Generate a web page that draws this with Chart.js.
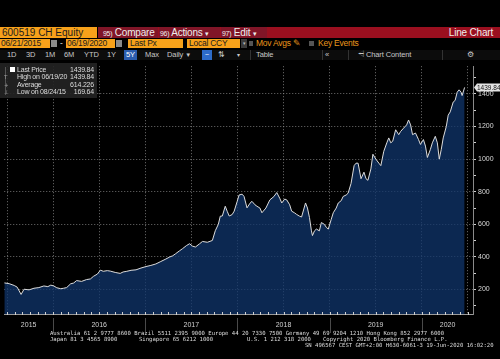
<!DOCTYPE html>
<html>
<head>
<meta charset="utf-8">
<script src="https://cdn.jsdelivr.net/npm/chart.js@4.4.1/dist/chart.umd.min.js"></script>
<style>
body{margin:0;background:#000;width:500px;height:359px;overflow:hidden;position:relative;
  font-family:"Liberation Sans",Arial,sans-serif;}
.a{position:absolute;white-space:nowrap;}
.or{background:#f7a11a;color:#1c1c1c;}
.rd{background:#9a0f1f;}
.sg{background:#801527;color:#eee;font-size:10px;line-height:11px;height:11px;top:27px;letter-spacing:-0.2px;}
.sg small{font-size:7px;letter-spacing:-0.3px;}
.r2{top:39px;height:9px;font-size:8.5px;line-height:9px;letter-spacing:-0.25px;}
.r3{top:50px;height:10px;font-size:7.5px;line-height:10px;color:#c8c8c8;letter-spacing:-0.1px;}
.cal{background:#8a8a8a;width:6px;height:7px;top:40px;}
.sep{background:#333;width:1px;height:10px;top:50px;}
#chartBox{position:absolute;left:0;top:60px;width:500px;height:275px;}
#lg{position:absolute;left:0;top:63px;width:97px;height:35px;background:rgba(36,36,36,0.9);
  color:#ddd;font-size:7px;letter-spacing:-0.2px;}
#lg .li{position:absolute;left:0;width:96px;height:8px;line-height:8px;}
#lg .li span{position:absolute;left:17px;}
#lg .li b{position:absolute;right:2px;font-weight:normal;}
#lg .sy{position:absolute;left:4px;color:#999;font-style:normal;font-family:"DejaVu Sans",sans-serif;font-size:5.5px;}
.ft{position:absolute;white-space:pre;font-family:"DejaVu Sans Mono",monospace;font-size:5.6px;
  line-height:6px;color:#ddd;}
</style>
</head>
<body>
<!-- header row 1 -->
<div class="a or" style="left:0;top:27px;width:95px;height:11px;font-size:10px;line-height:11px;padding-left:2px;">600519 CH Equity</div>
<div class="a rd" style="left:98px;top:27px;width:402px;height:11px;"></div>
<div class="a sg" style="left:98px;width:60px;padding-left:5px;box-sizing:border-box;"><small>95)</small> Compare</div>
<div class="a sg" style="left:159px;width:61px;padding-left:1px;box-sizing:border-box;"><small>96)</small> Actions <small>▾</small></div>
<div class="a sg" style="left:221px;width:46px;padding-left:1px;box-sizing:border-box;"><small>97)</small> Edit <small>▾</small></div>
<div class="a" style="right:7px;top:27px;font-size:10px;line-height:11px;color:#eee;letter-spacing:-0.2px;">Line Chart</div>

<!-- header row 2 -->
<div class="a or r2" style="left:0;width:49px;padding-left:1px;">06/21/2015</div>
<div class="a cal" style="left:51px;"></div>
<div class="a r2" style="left:60px;color:#ddd;">-</div>
<div class="a or r2" style="left:66px;width:48px;padding-left:1px;">06/19/2020</div>
<div class="a cal" style="left:116px;"></div>
<div class="a or r2" style="left:128px;width:53px;padding-left:2px;">Last Px</div>
<div class="a or r2" style="left:187px;width:51px;padding-left:2px;">Local CCY</div>
<div class="a" style="left:241px;top:39px;width:6px;height:9px;background:#3a3a3a;color:#bbb;font-size:5px;line-height:9px;text-align:center;">▾</div>
<div class="a" style="left:249px;top:41px;width:4px;height:5px;background:#555;"></div>
<div class="a r2" style="left:256px;color:#e8961c;">Mov Avgs ✎</div>
<div class="a" style="left:309px;top:41px;width:5px;height:5px;background:#555;"></div>
<div class="a r2" style="left:318px;color:#e8961c;">Key Events</div>

<!-- header row 3 -->
<div class="a" style="left:0;top:50px;width:500px;height:10px;background:#0c0c0c;"></div>
<div class="a r3" style="left:7px;">1D</div>
<div class="a r3" style="left:26px;">3D</div>
<div class="a r3" style="left:45px;">1M</div>
<div class="a r3" style="left:64px;">6M</div>
<div class="a r3" style="left:84px;">YTD</div>
<div class="a r3" style="left:107px;">1Y</div>
<div class="a r3" style="left:124px;width:13px;background:#2b5cae;color:#fff;text-align:center;">5Y</div>
<div class="a r3" style="left:145px;">Max</div>
<div class="a r3" style="left:167px;">Daily <span style="font-size:6px;">▼</span></div>
<div class="a r3" style="left:202px;width:10px;background:#2d6bc9;color:#fff;text-align:center;font-size:7px;">~</div>
<div class="a r3" style="left:218px;">⇅</div>
<div class="a r3" style="left:237px;font-size:6px;">▾</div>
<div class="a sep" style="left:250px;"></div>
<div class="a r3" style="left:256px;">Table</div>
<div class="a sep" style="left:322px;"></div>
<div class="a r3" style="left:325px;">«</div>
<div class="a sep" style="left:348px;"></div>
<div class="a r3" style="left:358px;">⩤ Chart Content</div>
<div class="a sep" style="left:442px;"></div>
<div class="a r3" style="left:467px;">⚙</div>

<div id="chartBox"><canvas id="chart"></canvas></div>

<!-- legend -->
<div id="lg">
  <div style="position:absolute;left:5px;top:4px;width:1px;height:28px;background:#555;"></div>
  <div class="li" style="top:2.5px;"><div style="position:absolute;left:10px;top:1.5px;width:5px;height:5px;background:#fff;"></div><span>Last Price</span><b>1439.84</b></div>
  <div class="li" style="top:10px;"><i class="sy">T</i><span>High on 06/19/20</span><b>1439.84</b></div>
  <div class="li" style="top:17.5px;"><i class="sy">+</i><span>Average</span><b>614.226</b></div>
  <div class="li" style="top:25px;"><i class="sy">⊥</i><span>Low on 08/24/15</span><b>169.64</b></div>
</div>

<!-- footer -->
<div class="ft" style="left:50px;top:330px;">Australia 61 2 9777 8600 Brazil 5511 2395 9000 Europe 44 20 7330 7500 Germany 49 69 9204 1210 Hong Kong 852 2977 6000</div>
<div class="ft" style="left:50px;top:336px;">Japan 81 3 4565 8900</div>
<div class="ft" style="left:139px;top:336px;">Singapore 65 6212 1000</div>
<div class="ft" style="left:247px;top:336px;">U.S. 1 212 318 2000</div>
<div class="ft" style="left:323px;top:336px;">Copyright 2020 Bloomberg Finance L.P.</div>
<div class="ft" style="left:305px;top:342px;">SN 496567 CEST GMT+2:00 H630-6061-3 19-Jun-2020 16:02:20</div>

<script>
// dates as decimal years
var dates = [
  2015.470,2015.524,2015.578,2015.610,2015.653,2015.685,2015.739,2015.793,2015.846,2015.900,
  2015.943,2015.975,2016.008,2016.040,2016.083,2016.115,2016.147,2016.190,2016.223,2016.255,
  2016.309,2016.362,2016.405,2016.438,2016.481,2016.513,2016.545,2016.588,2016.621,2016.674,
  2016.728,2016.760,2016.793,2016.846,2016.900,2016.954,2017.008,2017.061,2017.115,2017.169,
  2017.223,2017.266,2017.298,2017.330,2017.373,2017.405,2017.448,2017.481,2017.513,2017.545,
  2017.588,2017.621,2017.674,2017.728,2017.760,2017.793,2017.814,2017.836,2017.868,2017.889,
  2017.911,2017.943,2017.965,2017.997,2018.018,2018.051,2018.072,2018.104,2018.137,2018.158,
  2018.190,2018.212,2018.244,2018.266,2018.309,2018.352,2018.395,2018.427,2018.459,2018.481,
  2018.513,2018.535,2018.567,2018.588,2018.621,2018.642,2018.674,2018.696,2018.739,2018.760,
  2018.782,2018.803,2018.814,2018.836,2018.857,2018.889,2018.911,2018.943,2018.965,2018.986,
  2019.018,2019.040,2019.072,2019.094,2019.126,2019.147,2019.180,2019.201,2019.233,2019.266,
  2019.287,2019.309,2019.341,2019.373,2019.395,2019.416,2019.448,2019.470,2019.502,2019.535,
  2019.556,2019.588,2019.621,2019.642,2019.664,2019.685,2019.717,2019.750,2019.771,2019.803,
  2019.836,2019.857,2019.879,2019.900,2019.932,2019.965,2019.986,2020.018,2020.040,2020.061,
  2020.094,2020.115,2020.147,2020.169,2020.190,2020.212,2020.233,2020.266,2020.287,2020.309,
  2020.341,2020.362,2020.384,2020.405,2020.427,2020.438,2020.465
];
var prices = [
  241,236,225,215,170,202,198,208,212,222,
  218,227,222,211,205,208,212,235,240,255,
  250,261,265,281,295,319,312,316,313,305,
  299,308,311,318,321,332,341,348,357,372,
  387,400,407,420,438,451,470,481,466,461,
  480,495,490,501,561,600,650,651,711,680,
  651,660,681,740,780,785,771,701,730,741,
  720,711,700,671,700,750,770,795,760,731,
  755,750,720,681,670,661,650,645,731,700,
  641,560,531,560,571,560,611,600,581,571,
  631,671,700,731,745,771,780,791,851,960,
  975,975,880,920,880,870,940,1030,1000,975,
  960,1048,1100,1130,1100,1110,1180,1150,1170,1190,
  1210,1240,1210,1150,1160,1120,1090,1120,1080,1010,
  1060,1100,1140,1100,1000,1060,1130,1200,1270,1290,
  1350,1360,1410,1425,1410,1390,1439.84
];
var yTickValues = [200,400,600,800,1000,1200,1400];
var yearLabels = ['2015','2016','2017','2018','2019','2020'];
var yearLabelAt = [2015.735,2016.5,2017.5,2018.5,2019.5,2020.28];
var halfYears = [2015.5,2016,2016.5,2017,2017.5,2018,2018.5,2019,2019.5,2020,2020.5];
var lastPrice = prices[prices.length-1];

var X_MIN = 2015.47, X_MAX = 2020.556;
var gridCol = 'rgba(150,150,150,0.75)';

function near(a, b){ return Math.abs(a-b) < 1e-6; }
function isHalf(v){ return halfYears.some(function(h){ return near(h, v); }); }

var points = dates.map(function(d, i){ return {x: d, y: prices[i]}; });

var decor = {
  id: 'decor',
  afterDraw: function(chart){
    var ctx = chart.ctx, ca = chart.chartArea, xs = chart.scales.x, ys = chart.scales.y;
    ctx.save();
    // monthly ticks on bottom axis
    ctx.strokeStyle = '#cfcfcf';
    ctx.lineWidth = 1;
    for (var m = Math.ceil(X_MIN*12); m/12 <= X_MAX; m++) {
      var px = Math.round(xs.getPixelForValue(m/12)) + 0.5;
      ctx.beginPath(); ctx.moveTo(px, ca.bottom - 2); ctx.lineTo(px, ca.bottom + 1); ctx.stroke();
    }
    // year separators under axis
    ctx.strokeStyle = '#4a4a4a';
    for (var y = 2016; y <= 2020; y++) {
      var sx = Math.round(xs.getPixelForValue(y)) + 0.5;
      ctx.beginPath(); ctx.moveTo(sx, ca.bottom + 4); ctx.lineTo(sx, ca.bottom + 19); ctx.stroke();
    }
    // last price tag
    var ty = ys.getPixelForValue(lastPrice);
    var tx = ca.right + 4;
    ctx.fillStyle = '#e4e4e4';
    ctx.beginPath();
    ctx.moveTo(tx - 3, ty);
    ctx.lineTo(tx, ty - 4);
    ctx.lineTo(500, ty - 4);
    ctx.lineTo(500, ty + 4);
    ctx.lineTo(tx, ty + 4);
    ctx.closePath();
    ctx.fill();
    ctx.fillStyle = '#111';
    ctx.font = '6.5px "Liberation Sans",Arial';
    ctx.textBaseline = 'middle';
    ctx.fillText(lastPrice.toFixed(2), tx, ty + 0.5);
    ctx.restore();
  }
};

var chart = new Chart(document.getElementById('chart'), {
  type: 'line',
  data: {
    datasets: [{
      label: 'Last Price',
      data: points,
      borderColor: '#dcdcdc',
      borderWidth: 1,
      backgroundColor: 'rgba(16,52,106,0.76)',
      fill: 'start',
      pointRadius: 0,
      tension: 0
    }]
  },
  options: {
    responsive: true,
    maintainAspectRatio: false,
    animation: false,
    layout: { padding: { top: 1, left: 0, right: 0, bottom: 0 } },
    plugins: { legend: { display: false }, tooltip: { enabled: false } },
    scales: {
      x: {
        type: 'linear',
        min: X_MIN,
        max: X_MAX,
        afterBuildTicks: function(scale){
          var vals = halfYears.concat(yearLabelAt.filter(function(v){ return !isHalf(v); }));
          vals.sort(function(a,b){ return a-b; });
          scale.ticks = vals.map(function(v){ return {value: v}; });
        },
        afterFit: function(scale){ scale.height = 21; },
        grid: {
          color: function(c){ return c.tick && isHalf(c.tick.value) ? gridCol : 'transparent'; },
          drawTicks: false,
          lineWidth: 1
        },
        border: { display: true, color: '#9a9a9a', dash: [1, 2] },
        ticks: {
          autoSkip: false,
          maxRotation: 0,
          padding: 7,
          color: '#cfcfcf',
          font: { size: 7, family: '"Liberation Sans",Arial' },
          callback: function(v){
            for (var i = 0; i < yearLabelAt.length; i++) if (near(yearLabelAt[i], v)) return yearLabels[i];
            return '';
          }
        }
      },
      y: {
        position: 'right',
        min: 50,
        max: 1570,
        afterBuildTicks: function(scale){
          var t = [];
          for (var v = 100; v <= 1500; v += 100) t.push({value: v});
          scale.ticks = t;
        },
        afterFit: function(scale){ scale.width = 27; },
        grid: {
          color: function(c){ return c.tick && yTickValues.indexOf(c.tick.value) >= 0 ? gridCol : 'transparent'; },
          drawTicks: true,
          tickLength: 3,
          tickColor: '#d0d0d0'
        },
        border: { display: true, color: '#8a8a8a', dash: [1, 2] },
        ticks: {
          padding: 2,
          color: '#d8d8d8',
          font: { size: 7, family: '"Liberation Sans",Arial' },
          callback: function(v){ return yTickValues.indexOf(v) >= 0 ? String(v) : ''; }
        }
      }
    }
  },
  plugins: [decor]
});
</script>
</body>
</html>
